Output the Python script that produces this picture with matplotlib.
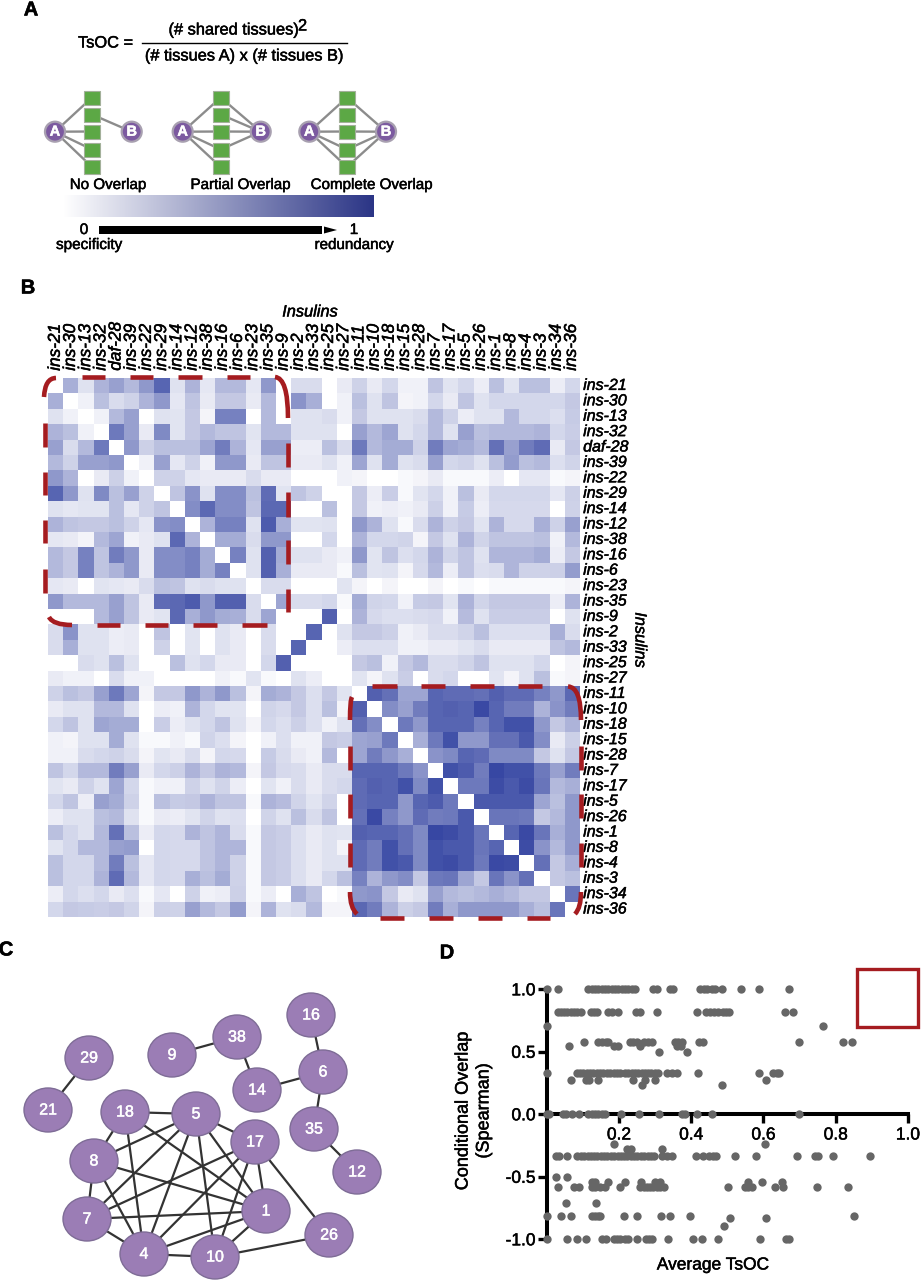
import numpy as np
import matplotlib
matplotlib.use("Agg")
import matplotlib.pyplot as plt
import matplotlib.patheffects as pe
from matplotlib.text import Text
from matplotlib.colors import LinearSegmentedColormap, PowerNorm
from matplotlib.patches import Ellipse, Circle, Rectangle, PathPatch, Polygon
from matplotlib.path import Path

plt.rcParams['font.family'] = ['Liberation Sans', 'DejaVu Sans']
W, H = 921, 1280

# ---------- Panel B data ----------
genes = ["ins-21","ins-30","ins-13","ins-32","daf-28","ins-39","ins-22","ins-29","ins-14","ins-12",
         "ins-38","ins-16","ins-6","ins-23","ins-35","ins-9","ins-2","ins-33","ins-25","ins-27",
         "ins-11","ins-10","ins-18","ins-15","ins-28","ins-7","ins-17","ins-5","ins-26","ins-1",
         "ins-8","ins-4","ins-3","ins-34","ins-36"]
# upper triangle of the TsOC matrix; row i starts at column i+1
upper = [
 [30,8,28,38,25,42,72,8,28,6,25,25,6,42,0,10,10,0,5,14,5,12,3,3,20,7,12,4,22,7,22,22,4,12],
 [3,22,10,14,28,42,6,20,5,18,18,5,25,0,45,30,0,3,22,8,20,2,3,12,5,20,8,12,12,12,12,12,18],
 [3,25,38,0,8,7,18,2,55,55,0,25,0,8,8,10,3,18,8,8,8,10,25,14,4,8,8,25,12,12,9,17],
 [60,38,5,50,7,18,25,20,20,7,25,25,8,8,8,0,38,25,35,8,12,25,8,38,22,25,25,25,28,12,16],
 [42,15,22,22,22,35,58,28,6,38,38,4,4,22,10,60,25,32,32,14,58,35,32,25,65,38,58,68,5,18],
 [3,38,6,14,3,42,42,5,20,20,5,5,8,3,35,8,32,8,10,38,12,14,8,22,40,22,25,9,13],
 [14,14,6,5,5,5,10,5,5,0,0,0,3,2,0,0,1,2,5,1,1,1,4,0,6,6,1,2],
 [20,45,8,48,48,22,68,7,20,14,0,0,18,4,16,1,7,12,3,22,5,12,12,12,12,6,15],
 [48,70,48,48,20,70,70,0,0,22,0,18,3,4,3,5,15,3,17,4,11,11,11,11,0,14],
 [28,55,55,8,78,30,7,7,8,0,42,28,8,1,10,28,14,18,7,28,11,11,30,14,38],
 [32,32,10,42,42,0,0,12,0,28,12,12,13,2,18,8,28,13,20,20,20,22,3,25],
 [55,8,75,32,8,8,5,3,42,7,20,9,12,28,13,20,8,27,27,27,32,4,18],
 [8,75,30,5,5,5,1,22,7,8,2,11,25,4,20,9,10,27,14,14,15,40],
 [10,10,0,0,0,7,2,0,2,0,0,2,0,1,0,1,1,1,1,1,2],
 [35,10,10,12,1,32,13,12,3,17,18,7,28,13,18,18,18,18,4,28],
 [0,0,75,0,28,11,9,9,10,11,3,24,8,16,16,16,16,0,8],
 [72,0,8,18,18,15,3,5,10,10,13,22,9,9,9,9,30,10],
 [0,4,9,9,9,3,3,5,5,7,10,5,5,5,5,20,25],
 [0,18,22,3,18,25,10,10,13,20,8,8,8,12,0,2],
 [7,2,8,16,0,10,12,0,0,7,2,8,22,1,2],
 [75,65,35,35,72,68,68,65,75,68,68,55,42,70],
 [48,38,58,72,75,72,90,72,58,58,28,45,58],
 [60,42,72,72,72,55,72,85,85,42,18,28],
 [30,60,85,42,42,65,65,80,48,5,15],
 [45,50,72,68,50,50,50,18,8,18],
 [85,78,58,92,85,85,60,38,58],
 [60,60,88,80,88,62,25,30],
 [80,80,80,80,35,22,42],
 [62,62,60,18,25,42],
 [72,90,62,30,42],
 [88,45,25,42],
 [65,18,30],
 [18,22],
 [62],
]

# ---------- Panel C data ----------
node_names = ["16","38","9","29","6","14","21","18","5","35","17","8","12","1","7","26","4","10"]
node_x = [311,237,172,89,323,257,48,125,196,314,255,94,357,266,87,329,144,215]
node_y = [1015,1037,1055,1058,1072,1090,1110,1112,1114,1129,1142,1161,1172,1211,1219,1235,1254,1257]
edges = [("29","21"),("9","38"),("38","14"),("14","6"),("16","6"),("6","35"),("35","12"),
         ("18","5"),("18","8"),("18","4"),("18","1"),("5","8"),("5","7"),("5","4"),("5","10"),
         ("5","1"),("5","17"),("17","7"),("17","4"),("17","10"),("17","1"),("17","26"),
         ("8","7"),("8","4"),("8","1"),("7","4"),("7","1"),("1","4"),("1","10"),("4","10"),("10","26")]

# ---------- Panel D data: average TsOC values grouped by conditional overlap ----------
levels = [1.0,0.816,0.707,0.58,0.55,0.5,0.333,0.275,0.235,0.0,-0.24,-0.275,-0.333,-0.5,-0.54,-0.58,-0.71,-0.81,-0.83,-0.89,-1.0]
tsoc = [
 [0,.03,.115,.125,.134,.143,.152,.161,.171,.18,.189,.198,.208,.217,.226,.235,.244,.293,.305,.341,.35,.424,.434,.443,.457,.466,.486,.537,.587,.671],
 [.03,.039,.048,.057,.066,.076,.085,.095,.122,.131,.14,.171,.18,.196,.247,.258,.305,.417,.441,.452,.463,.474,.487,.496,.504,.66,.683],
 [0,.766],
 [.103,.143,.152,.163,.171,.231,.24,.249,.269,.281,.292,.355,.364,.374,.422,.432,.698,.821,.846],
 [.063,.185,.196,.258,.362,.371],
 [.311,.388],
 [0,.083,.092,.101,.111,.12,.129,.138,.148,.157,.166,.175,.185,.194,.203,.217,.226,.235,.244,.253,.263,.272,.281,.29,.299,.308,.334,.346,.362,.42,.587,.627,.637,.644],
 [.067,.108,.117,.141,.238,.272,.3,.607],
 [.263,.486],
 [0,.005,.046,.054,.069,.09,.115,.125,.134,.143,.152,.161,.206,.256,.31,.374,.383,.415,.457,.699],
 [.185,.604],
 [.221,.232,.318],
 [.026,.035,.055,.085,.094,.103,.113,.122,.131,.14,.149,.159,.168,.177,.186,.196,.205,.214,.223,.232,.242,.251,.26,.269,.279,.288,.297,.318,.334,.346,.413,.432,.45,.459,.469,.521,.578,.693,.743,.752,.793,.895],
 [.025,.055],
 [.125,.134,.171,.217,.261,.3,.314,.558,.595,.65],
 [.03,.076,.089,.125,.134,.148,.161,.203,.258,.268,.277,.286,.295,.304,.314,.325,.503,.549,.558,.568,.632,.655,.748,.833],
 [.054,.136],
 [0,.039,.067,.126,.134,.141,.148,.214,.249,.316,.342,.397,.851],
 [.508,.606],
 [.49],
 [0,.055,.083,.109,.154,.163,.185,.194,.203,.217,.226,.251,.274,.283,.292,.335,.404,.429,.475,.589,.661,.672],
]

RED = "#A51C20"
heat_cmap = LinearSegmentedColormap.from_list("tsoc", ["#FFFFFF", "#3747A3"])
bar_cmap = LinearSegmentedColormap.from_list("bar", ["#FFFFFF", "#2B3586"])

fig = plt.figure(figsize=(W/100, H/100), dpi=100, facecolor="white")

def px_axes(l, t, r, b, **kw):
    return fig.add_axes([l/W, 1-b/H, (r-l)/W, (b-t)/H], **kw)

# ---------- Heatmap ----------
n = len(genes)
mat = np.zeros((n, n))
for i, row in enumerate(upper):
    mat[i, i+1:] = row
    mat[i+1:, i] = row
axb = px_axes(47.7, 377.7, 579, 916.7)
axb.imshow(mat, cmap=heat_cmap, norm=PowerNorm(gamma=0.75, vmin=0, vmax=92), aspect="auto", interpolation="nearest")
for s in axb.spines.values():
    s.set_visible(False)
axb.set_xticks(range(n))
axb.set_xticklabels(genes, rotation=90, style="italic", fontsize=12.4, ha="center", va="bottom")
axb.set_yticks(range(n))
axb.set_yticklabels(genes, style="italic", fontsize=11.5, ha="left", va="center")
axb.tick_params(top=True, labeltop=True, bottom=False, labelbottom=False,
                left=False, labelleft=False, right=True, labelright=True, length=0, pad=3)
axb.tick_params(axis="x", pad=5)

# ---------- Panel D ----------
axd = px_axes(546.7, 989.3, 908, 1239.3)
axd.set_xlim(0, 1)
axd.set_ylim(-1, 1)
axd.patch.set_alpha(0)
for s in ["top", "right"]:
    axd.spines[s].set_visible(False)
axd.spines["left"].set_linewidth(2.9)
axd.spines["bottom"].set_position(("data", 0))
axd.spines["bottom"].set_linewidth(2.9)
axd.set_xticks([0.2, 0.4, 0.6, 0.8, 1.0])
axd.set_xticklabels(["0.2", "0.4", "0.6", "0.8", "1.0"], fontsize=12.5)
axd.set_yticks([-1, -0.5, 0, 0.5, 1])
axd.set_yticklabels(["-1.0", "-0.5", "0.0", "0.5", "1.0"], fontsize=12.5)
axd.tick_params(length=6.5, width=2.4, pad=1.5)
axd.tick_params(axis="x", pad=3)
for lvl, xs in zip(levels, tsoc):
    axd.scatter(xs, [lvl]*len(xs), s=36, color="#666666", linewidths=0, zorder=5, clip_on=False)

# ---------- Overlay in pixel coordinates ----------
ov = fig.add_axes([0, 0, 1, 1], zorder=10)
ov.set_xlim(0, W)
ov.set_ylim(H, 0)
ov.axis("off")
ov.patch.set_alpha(0)

# panel letters
for lab, x, y in [("A", 31, 10), ("B", 28, 288), ("C", 6, 950), ("D", 447, 953)]:
    ov.text(x, y, lab, fontsize=14.5, fontweight="bold", ha="center", va="center")

# formula
ov.text(78, 43, "TsOC =", fontsize=11.8, ha="left", va="center")
ov.plot([142, 347], [43, 43], color="black", lw=1.0)
ov.text(233.5, 30, "(# shared tissues)", fontsize=11.8, ha="center", va="center")
ov.text(298, 26, "2", fontsize=11.8, ha="left", va="center")
ov.text(244, 56, "(# tissues A) x (# tissues B)", fontsize=11.8, ha="center", va="center")

# overlap diagrams
sq_y = [97.5, 114.5, 131.5, 149.5, 167]
diagrams = [(92, 55, 131.7, [0, 2, 3, 4], [1]),
            (220.7, 182.7, 260.7, [0, 2, 3, 4], [0, 1, 2, 3]),
            (347, 309.3, 386, [0, 2, 3, 4], [0, 2, 3, 4])]
for sx, ax_, bx, la, lb in diagrams:
    for k in la:
        ov.plot([ax_, sx], [131.7, sq_y[k]], color="#8C8C8C", lw=1.7, zorder=1)
    for k in lb:
        ov.plot([bx, sx], [131.7, sq_y[k]], color="#8C8C8C", lw=1.7, zorder=1)
    for y in sq_y:
        ov.add_patch(Rectangle((sx-8, y-7), 16, 14, fc="#5CA845", ec="#A3B09A", lw=0.8, zorder=2))
    for cx, lab in [(ax_, "A"), (bx, "B")]:
        ov.add_patch(Circle((cx, 131.7), 10, fc="#7C5AA0", ec="#A8A0B0", lw=1.6, zorder=3))
        ov.text(cx, 131.7, lab, color="white", fontsize=10.5, fontweight="bold",
                ha="center", va="center", zorder=4)
for x, lab in [(108, "No Overlap"), (240.5, "Partial Overlap"), (371.5, "Complete Overlap")]:
    ov.text(x, 185, lab, fontsize=10.9, ha="center", va="center")

# colour bar and arrow
axg = px_axes(63, 195, 374, 217)
axg.imshow(np.linspace(0, 1, 256)[None, :], cmap=bar_cmap, aspect="auto")
axg.axis("off")
ov.add_patch(Rectangle((99, 226), 223, 8, fc="black", ec="none"))
ov.add_patch(Polygon([(324, 226.5), (337, 230), (324, 233.5)], fc="black", ec="none"))
ov.text(84, 230, "0", fontsize=11, ha="center", va="center")
ov.text(354, 230, "1", fontsize=11, ha="center", va="center")
ov.text(89, 245, "specificity", fontsize=11, ha="center", va="center")
ov.text(354, 245, "redundancy", fontsize=10.9, ha="center", va="center")

# heatmap titles
ov.text(310, 312, "Insulins", fontsize=11.8, style="italic", ha="center", va="center")
ov.text(640, 640, "Insulins", fontsize=11.8, style="italic", rotation=-90, ha="center", va="center")

# red dashed outlines
def dash(x0, y0, x1, y1):
    ov.plot([x0, x1], [y0, y1], color=RED, lw=3.3, solid_capstyle="butt", zorder=6)
def arc(p0, c, p1):
    ov.add_patch(PathPatch(Path([p0, c, p1], [Path.MOVETO, Path.CURVE3, Path.CURVE3]),
                           fc="none", ec=RED, lw=3.3, capstyle="butt", zorder=6))

for a, b in [(81.7, 105), (130, 153), (178, 202), (227, 250)]:
    dash(a, 377, b, 377)
for a, b in [(96.7, 120), (145, 168), (193, 217), (242, 267)]:
    dash(a, 625, b, 625)
for a, b in [(423, 447), (472, 495), (520, 543), (569, 593)]:
    dash(45, a, 45, b)
for a, b in [(443, 467), (492, 517), (540, 564), (589, 612)]:
    dash(288, a, 288, b)
arc((44, 397), (45, 378), (56, 378))
arc((275, 377), (288, 378), (288, 418))
arc((49, 617), (53, 625), (72, 625))

for a, b in [(372, 397), (421, 445), (470, 494), (518, 542)]:
    dash(a, 686, b, 686)
for a, b in [(380, 404), (429, 453), (478, 502), (527, 550)]:
    dash(a, 918, b, 918)
for a, b in [(746, 770), (794, 818), (843, 867)]:
    dash(350, a, 350, b)
    dash(581, a, 581, b)
arc((568, 686.5), (581, 687), (581, 720))
arc((352, 697), (350, 700), (350, 720))
arc((350, 892), (350, 908), (357, 914))
arc((581, 892), (581, 908), (575, 914))

# network
pos = {k: (x, y) for k, x, y in zip(node_names, node_x, node_y)}
for a, b in edges:
    ov.plot([pos[a][0], pos[b][0]], [pos[a][1], pos[b][1]], color="#333333", lw=1.6, zorder=2)
for k, (x, y) in pos.items():
    ov.add_patch(Ellipse((x, y), 48, 44, fc="#9B7DB5", ec="#7E6C96", lw=1.0, zorder=3))
    ov.text(x, y, k, color="white", fontsize=11.5, ha="center", va="center", zorder=4)

# panel D annotations
ov.add_patch(Rectangle((857, 969), 61, 58, fc="none", ec=RED, lw=2.4))
ov.text(473.5, 1111, "Conditional Overlap\n(Spearman)", fontsize=13, rotation=90,
        ha="center", va="center", linespacing=1.3)
ov.text(713, 1265, "Average TsOC", fontsize=12.5, ha="center", va="center")

# the reference's type is slightly heavier than the installed regular weight
for t in fig.findobj(Text):
    if t.get_text():
        t.set_path_effects([pe.withStroke(linewidth=0.35, foreground=t.get_color())])

fig.savefig("out.png", dpi=100)
